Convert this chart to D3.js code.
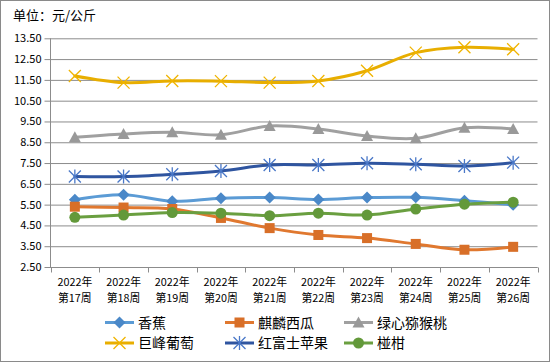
<!DOCTYPE html>
<html>
<head>
<meta charset="utf-8">
<script src="https://cdn.jsdelivr.net/npm/d3@7"></script>
<style>
  body { margin: 0; background: #fff; }
  text { font-family: "Noto Sans CJK SC", "DejaVu Sans", sans-serif; fill: #000; }
</style>
</head>
<body>
<svg id="chart" width="550" height="362"></svg>
<script>
const weeks = ["第17周", "第18周", "第19周", "第20周", "第21周", "第22周", "第23周", "第24周", "第25周", "第26周"];
const year = "2022年";
const yTicks = [2.5, 3.5, 4.5, 5.5, 6.5, 7.5, 8.5, 9.5, 10.5, 11.5, 12.5, 13.5];

const banana = [5.74, 5.97, 5.66, 5.81, 5.84, 5.75, 5.84, 5.85, 5.69, 5.49];
const watermelon = [5.40, 5.36, 5.29, 4.86, 4.37, 4.04, 3.89, 3.61, 3.33, 3.47];
const kiwi = [8.74, 8.90, 8.98, 8.86, 9.28, 9.14, 8.80, 8.69, 9.20, 9.14];
const grape = [11.69, 11.37, 11.45, 11.44, 11.37, 11.45, 11.94, 12.81, 13.07, 12.97];
const apple = [6.85, 6.85, 6.96, 7.12, 7.41, 7.41, 7.49, 7.44, 7.36, 7.52];
const ponkan = [4.89, 5.00, 5.12, 5.09, 4.97, 5.09, 5.00, 5.29, 5.52, 5.62];

const series = [
  { name: "香蕉", values: banana, line: "#5B9BD5", mark: "#4A88C8", shape: "diamond" },
  { name: "麒麟西瓜", values: watermelon, line: "#E0782F", mark: "#D86F28", shape: "square" },
  { name: "绿心猕猴桃", values: kiwi, line: "#A0A0A0", mark: "#999999", shape: "triangle" },
  { name: "巨峰葡萄", values: grape, line: "#E8AE00", mark: "#F0B400", shape: "x" },
  { name: "红富士苹果", values: apple, line: "#2F55A0", mark: "#4A78C8", shape: "star" },
  { name: "椪柑", values: ponkan, line: "#6A9F40", mark: "#63993A", shape: "circle" }
];

const svg = d3.select("#chart");
const W = 550, H = 362;

svg.append("rect")
  .attr("x", 0.5).attr("y", 0.5)
  .attr("width", W - 1).attr("height", H - 1)
  .attr("fill", "#fff").attr("stroke", "#8a8a8a");

svg.append("text")
  .attr("x", 13).attr("y", 20)
  .attr("font-size", 13)
  .text("单位：元/公斤");

const plotL = 50.5, plotR = 537.5, plotT = 38.3, plotB = 267;

const x = d3.scaleBand().domain(weeks).range([plotL, plotR]);
const y = d3.scaleLinear().domain([2.5, 13.5]).range([plotB, plotT]);

// gridlines + y ticks
const yAxis = d3.axisLeft(y)
  .tickValues(yTicks)
  .tickFormat(d3.format(".2f"))
  .tickSize(-(plotR - plotL))
  .tickPadding(8);

const gy = svg.append("g")
  .attr("transform", `translate(${plotL},0)`)
  .call(yAxis);
gy.select(".domain").remove();
gy.selectAll(".tick line").attr("stroke", "#8c8c8c").attr("x1", -6);
gy.selectAll(".tick text")
  .attr("font-size", 11)
  .attr("font-family", "\"Noto Sans CJK SC\", sans-serif")
  .attr("x", -9)
  .attr("fill", "#000");

svg.append("line")
  .attr("x1", plotL).attr("x2", plotL)
  .attr("y1", plotT).attr("y2", plotB)
  .attr("stroke", "#8c8c8c");

// x axis
const gx = svg.append("g")
  .attr("transform", `translate(0,${Math.round(plotB) + 0.5})`);
gx.append("line")
  .attr("x1", plotL).attr("x2", plotR)
  .attr("stroke", "#8c8c8c");
const edges = weeks.map(w => x(w)).concat([plotR]);
gx.selectAll("line.tk").data(edges).join("line")
  .attr("class", "tk")
  .attr("x1", d => Math.round(d) + 0.5).attr("x2", d => Math.round(d) + 0.5)
  .attr("y1", 0).attr("y2", 5)
  .attr("stroke", "#8c8c8c");
gx.selectAll("text.yr").data(weeks).join("text")
  .attr("class", "yr")
  .attr("text-anchor", "middle")
  .attr("font-size", 10.8)
  .attr("x", d => x(d) + x.bandwidth() / 2)
  .attr("y", 18.5)
  .text(year);
gx.selectAll("text.wk").data(weeks).join("text")
  .attr("class", "wk")
  .attr("text-anchor", "middle")
  .attr("font-size", 10.8)
  .attr("x", d => x(d) + x.bandwidth() / 2)
  .attr("y", 34.3)
  .text(d => d);

const cx = (d, i) => x(weeks[i]) + x.bandwidth() / 2;

const line = d3.line()
  .x(cx)
  .y(d => y(d))
  .curve(d3.curveCardinal.tension(0));

function drawMarker(g, shape, color) {
  if (shape === "diamond") {
    g.append("path").attr("d", "M0,-6L6,0L0,6L-6,0Z").attr("fill", color);
  } else if (shape === "square") {
    g.append("rect").attr("x", -5).attr("y", -5).attr("width", 10).attr("height", 10)
      .attr("fill", color);
  } else if (shape === "triangle") {
    g.append("path").attr("d", "M0,-6L6,5L-6,5Z").attr("fill", color);
  } else if (shape === "circle") {
    g.append("circle").attr("r", 5.5).attr("fill", color);
  } else if (shape === "x") {
    g.append("path").attr("d", "M-6,-6L6,6M-6,6L6,-6")
      .attr("stroke", color).attr("stroke-width", 1.3).attr("fill", "none");
  } else if (shape === "star") {
    g.append("path").attr("d", "M-6,-6L6,6M-6,6L6,-6M0,-7V7")
      .attr("stroke", color).attr("stroke-width", 1.3).attr("fill", "none");
  }
}

series.forEach(s => {
  svg.append("path")
    .datum(s.values)
    .attr("d", line)
    .attr("fill", "none")
    .attr("stroke", s.line)
    .attr("stroke-width", 3)
    .attr("stroke-linejoin", "round")
    .attr("stroke-linecap", "round");
  s.values.forEach((v, i) => {
    const g = svg.append("g").attr("transform", `translate(${cx(v, i)},${y(v)})`);
    drawMarker(g, s.shape, s.mark);
  });
});

// legend
const legCols = [105, 225, 344];
const legRows = [322.5, 343];
series.forEach((s, i) => {
  const lx = legCols[i % 3], ly = legRows[Math.floor(i / 3)];
  const g = svg.append("g").attr("transform", `translate(${lx},${ly})`);
  g.append("line").attr("x1", 0).attr("x2", 29)
    .attr("stroke", s.line).attr("stroke-width", 3);
  const m = g.append("g").attr("transform", "translate(14.5,0)");
  drawMarker(m, s.shape, s.mark);
  g.append("text").attr("x", 33).attr("y", 0)
    .attr("dy", "0.36em")
    .attr("font-size", 14)
    .text(s.name);
});
</script>
</body>
</html>
